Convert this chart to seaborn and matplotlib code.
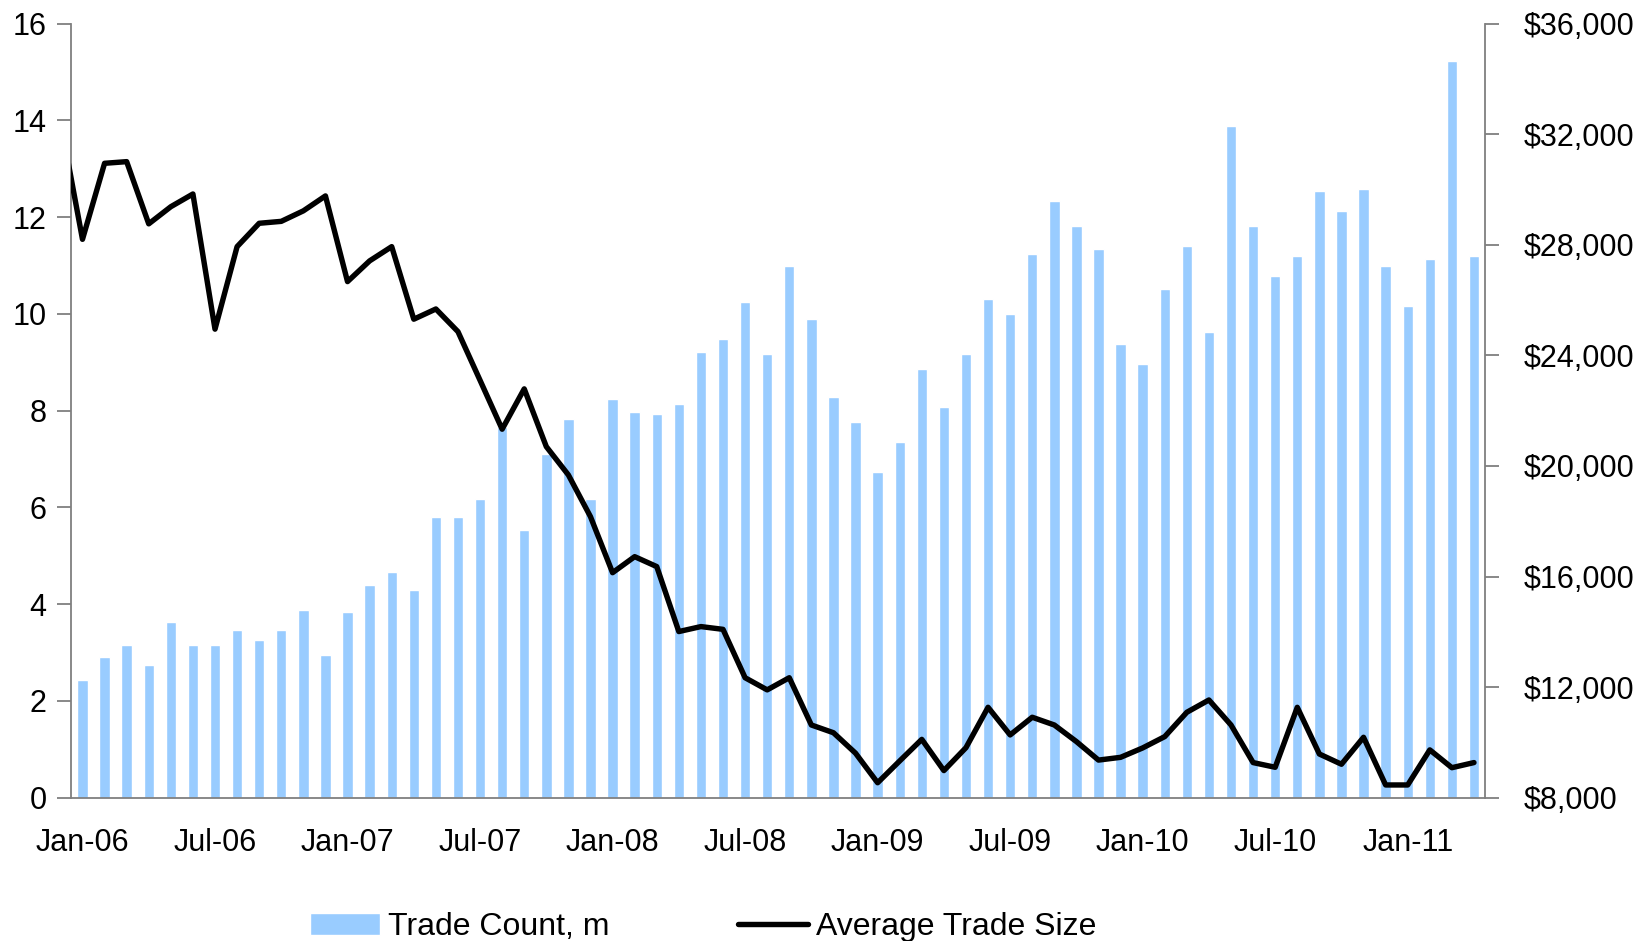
import numpy as np
import pandas as pd
import matplotlib
matplotlib.use("Agg")
import matplotlib.pyplot as plt
import matplotlib.ticker as mticker
import seaborn as sns

# monthly categories Jan-06 .. Apr-11
months = pd.date_range("2006-01-01", periods=64, freq="MS").strftime("%b-%y").tolist()

# trade count, millions (bars, left axis)
trade_count = [
    2.43, 2.91, 3.16, 2.74, 3.63, 3.16, 3.16, 3.47, 3.26, 3.47, 3.88, 2.95,
    3.84, 4.40, 4.67, 4.29, 5.80, 5.80, 6.17, 7.67, 5.53, 7.11, 7.83, 6.17,
    8.24, 7.97, 7.93, 8.14, 9.21, 9.48, 10.25, 9.17, 10.99, 9.89, 8.28, 7.77,
    6.73, 7.35, 8.86, 8.08, 9.17, 10.31, 10.00, 11.24, 12.33, 11.82, 11.34, 9.37,
    8.96, 10.51, 11.40, 9.63, 13.89, 11.82, 10.78, 11.20, 12.54, 12.13, 12.58, 10.99,
    10.16, 11.13, 15.23, 11.20,
]

# average trade size, $ (line, right axis) -- first value is Dec-05, clipped at the axis
size_months = ["Dec-05"] + months
avg_trade_size = [
    32500,
    28200, 30950, 31010, 28760, 29380, 29840, 24950, 27935, 28780, 28850, 29230, 29770,
    26670, 27420, 27935, 25310, 25680, 24860, 23100, 21330, 22790, 20700, 19675, 18165,
    16140, 16720, 16360, 14010, 14190, 14090, 12340, 11900, 12340, 10630, 10350, 9610,
    8540, 9330, 10110, 8980, 9810, 11270, 10270, 10910, 10630, 10030, 9360, 9460,
    9800, 10210, 11090, 11535, 10630, 9270, 9100, 11270, 9580, 9210, 10185, 8460,
    8460, 9730, 9085, 9270,
]

bar_color = "#99CCFF"
axis_color = "#7f7f7f"

sns.set_theme(style="white")
plt.rcParams["font.family"] = ["Liberation Sans", "DejaVu Sans"]
plt.rcParams["font.size"] = 22
plt.rcParams["text.color"] = "black"

fig = plt.figure(figsize=(16.46, 9.41), dpi=100)
ax = fig.add_axes([0.0434, 0.1523, 0.8588, 0.8225])

df_bars = pd.DataFrame({"month": months, "count": trade_count})
sns.barplot(data=df_bars, x="month", y="count", color=bar_color, saturation=1,
            width=0.47, ax=ax, label="Trade Count, m")

ax2 = ax.twinx()
df_line = pd.DataFrame({"pos": np.arange(-1, len(months)), "size": avg_trade_size})
sns.lineplot(data=df_line, x="pos", y="size", color="black", linewidth=3.9,
             ax=ax2, label="Average Trade Size", legend=False)

ax.set_xlim(-0.5, len(months) - 0.5)
ax.set_ylim(0, 16)
ax.set_yticks(range(0, 17, 2))
ax2.set_ylim(8000, 36000)
ax2.set_yticks(range(8000, 36001, 4000))
ax2.yaxis.set_major_formatter(mticker.StrMethodFormatter("${x:,.0f}"))

tick_pos = list(range(0, len(months), 6))
ax.set_xticks(tick_pos)
ax.set_xticklabels([months[i] for i in tick_pos])
ax.set_xlabel("")
ax.set_ylabel("")
ax2.set_xlabel("")
ax2.set_ylabel("")

for a in (ax, ax2):
    a.spines["top"].set_visible(False)
    for s in a.spines.values():
        s.set_color(axis_color)
        s.set_linewidth(1.3)
ax.spines["right"].set_visible(False)
ax2.spines["left"].set_visible(False)
ax2.spines["bottom"].set_visible(False)

ax.tick_params(axis="x", length=0, pad=22, labelsize=22, colors="black")
ax.tick_params(axis="y", length=10, width=1.3, color=axis_color, pad=8,
               labelsize=22, labelcolor="black", left=True)
ax2.tick_params(axis="y", length=10, width=1.3, color=axis_color, pad=18,
                labelsize=22, labelcolor="black", right=True)

h1, l1 = ax.get_legend_handles_labels()
h2, l2 = ax2.get_legend_handles_labels()
if ax.get_legend():
    ax.get_legend().remove()
fig.legend(h1 + h2, l1 + l2, loc="center left", bbox_to_anchor=(310 / 1646, 1 - 927 / 941),
           ncol=2, frameon=False, fontsize=23, labelcolor="black", handlelength=2.2,
           handletextpad=0.25, columnspacing=4.0, borderpad=0, borderaxespad=0)

fig.savefig("out.png", dpi=100)
